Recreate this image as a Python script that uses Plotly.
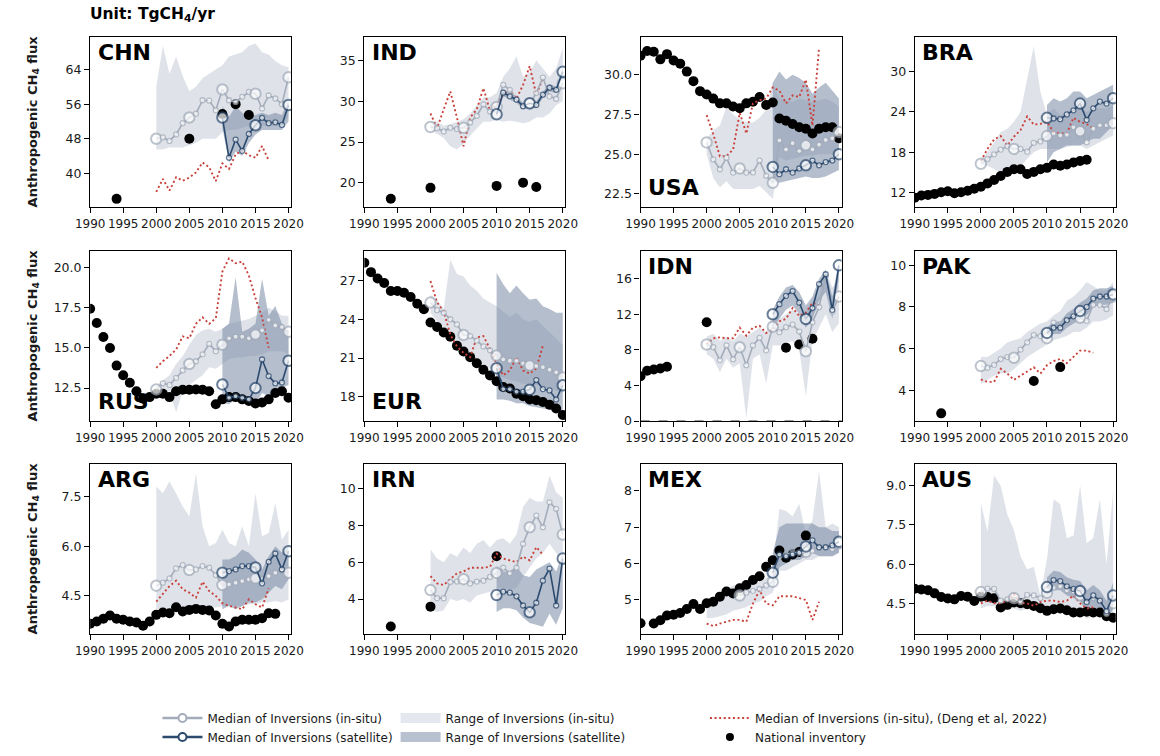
import plotly.graph_objects as go

# ---------------- DATA ----------------
YRS_ALL = list(range(1990, 2021))
YRS_INSITU = list(range(2000, 2021))
YRS_SAT = list(range(2010, 2021))
YRS_DENG = list(range(2000, 2018))
X_TICKS = [1990, 1995, 2000, 2005, 2010, 2015, 2020]

# CHN
chn_inv_x = [1994, 2005, 2010, 2012, 2014]
chn_inv = [34.1, 48.0, 53.7, 56.0, 53.5]
chn_insitu = [48.0, 48.3, 47.5, 49.0, 51.6, 52.9, 53.8, 56.9, 56.8, 54.6, 59.4, 56.9, 56.5, 57.7, 58.8, 58.4, 55.0, 58.0, 57.3, 56.0, 62.2]
chn_insitu_lo = [45.5, 45.5, 46.0, 46.0, 46.0, 46.5, 47.0, 48.0, 48.0, 48.0, 49.5, 50.0, 50.0, 50.5, 51.0, 51.5, 51.0, 51.0, 51.0, 51.0, 53.0]
chn_insitu_hi = [60.0, 69.5, 63.0, 67.0, 62.5, 59.0, 60.0, 62.0, 63.0, 64.0, 65.0, 67.0, 67.5, 68.0, 69.5, 70.0, 68.0, 67.5, 66.0, 65.0, 64.5]
chn_sat = [52.9, 43.6, 47.8, 45.2, 49.1, 51.1, 52.8, 51.6, 51.8, 51.2, 55.8]
chn_sat_lo = [50.5, 42.5, 45.0, 44.0, 47.0, 49.0, 50.0, 50.0, 50.0, 50.0, 52.0]
chn_sat_hi = [55.5, 53.0, 55.5, 54.0, 53.0, 53.5, 54.0, 53.5, 54.0, 53.5, 57.0]
chn_deng = [35.7, 38.7, 36.0, 39.1, 38.3, 39.0, 40.2, 42.5, 41.4, 38.2, 42.3, 41.0, 44.4, 45.2, 44.2, 43.6, 46.3, 43.0]

# IND
ind_inv_x = [1994, 2000, 2010, 2014, 2016]
ind_inv = [18.06, 19.4, 19.64, 20.04, 19.5]
ind_insitu = [26.85, 26.7, 26.3, 26.75, 26.6, 26.75, 27.4, 28.2, 29.6, 28.75, 29.3, 32.0, 31.4, 30.2, 29.4, 29.7, 31.0, 32.9, 30.6, 30.3, 32.2]
ind_insitu_lo = [26.5, 26.0, 25.5, 24.5, 24.1, 24.8, 25.8, 26.7, 27.5, 27.5, 27.7, 27.5, 27.6, 27.5, 27.3, 27.5, 28.0, 28.0, 28.5, 29.5, 30.0]
ind_insitu_hi = [27.5, 27.5, 27.0, 27.2, 27.5, 27.8, 28.5, 29.5, 30.5, 30.5, 31.0, 33.0, 34.0, 35.5, 33.0, 33.5, 35.0, 34.0, 33.0, 34.0, 36.5]
ind_sat = [28.4, 31.05, 30.6, 30.2, 29.4, 29.75, 29.55, 30.8, 31.65, 31.4, 33.6]
ind_sat_lo = [28.0, 30.6, 30.2, 29.8, 29.0, 29.3, 29.1, 30.4, 31.2, 31.0, 33.1]
ind_sat_hi = [28.8, 31.5, 31.0, 30.6, 29.8, 30.2, 30.0, 31.2, 32.1, 31.8, 34.1]
ind_deng = [28.5, 26.7, 29.0, 31.2, 28.0, 24.5, 28.0, 29.0, 31.6, 28.8, 29.5, 30.8, 31.4, 30.3, 32.0, 34.3, 30.8, 32.8]

# USA
usa_inv = [31.2, 31.5, 31.45, 30.97, 31.3, 30.9, 30.7, 30.2, 29.6, 28.97, 28.76, 28.5, 28.2, 28.2, 28.0, 27.9, 28.2, 28.3, 28.6, 28.1, 28.25, 27.25, 27.1, 26.9, 26.7, 26.6, 26.3, 26.6, 26.7, 26.7, 26.0]
usa_insitu = [25.74, 24.67, 24.05, 24.77, 23.84, 24.1, 23.84, 23.85, 24.6, 23.64, 23.2, 25.87, 25.3, 25.7, 25.2, 25.56, 25.3, 25.6, 25.9, 26.0, 26.4]
usa_insitu_lo = [25.0, 23.5, 22.9, 23.3, 22.8, 22.8, 22.8, 22.8, 23.0, 22.6, 22.2, 24.8, 24.6, 24.7, 24.8, 24.9, 24.9, 25.0, 25.0, 25.0, 25.0]
usa_insitu_hi = [26.0, 26.5, 26.8, 28.0, 27.5, 27.2, 27.0, 27.0, 27.3, 27.8, 29.5, 28.5, 28.4, 28.3, 28.5, 28.4, 28.3, 28.4, 28.5, 28.3, 28.0]
usa_sat = [24.2, 23.74, 24.05, 23.84, 24.1, 24.3, 24.6, 24.3, 24.5, 24.6, 25.0]
usa_sat_lo = [23.3, 23.2, 23.3, 23.4, 23.5, 23.6, 23.5, 23.5, 23.6, 23.8, 24.0]
usa_sat_hi = [29.5, 30.2, 29.7, 30.0, 29.8, 29.5, 28.8, 29.2, 29.5, 29.0, 28.5]
usa_deng = [27.46, 26.26, 24.87, 24.87, 25.3, 27.6, 26.3, 28.2, 28.4, 28.5, 29.2, 29.0, 28.2, 28.7, 28.6, 29.7, 26.8, 31.7]

# BRA
bra_inv_x = list(range(1990, 2017))
bra_inv = [11.27, 11.6, 11.7, 11.85, 12.1, 12.25, 11.95, 12.1, 12.3, 12.6, 12.9, 13.4, 13.9, 14.5, 15.1, 15.5, 15.5, 14.8, 15.1, 15.5, 15.7, 16.2, 16.0, 16.2, 16.5, 16.7, 16.9]
bra_insitu = [16.3, 17.0, 17.7, 18.4, 18.9, 18.5, 18.5, 18.1, 19.4, 19.6, 20.4, 20.8, 20.5, 20.6, 21.7, 21.1, 19.5, 21.5, 22.0, 22.0, 22.3]
bra_insitu_lo = [16.0, 16.0, 15.5, 15.0, 15.0, 16.0, 16.0, 17.0, 18.0, 18.5, 18.5, 18.5, 18.5, 18.8, 19.0, 19.0, 18.5, 19.0, 19.5, 20.0, 20.5]
bra_insitu_hi = [17.0, 18.0, 19.5, 21.0, 21.5, 22.5, 24.0, 29.0, 33.7, 27.0, 23.5, 24.5, 23.5, 24.0, 24.5, 24.5, 24.0, 24.5, 24.5, 24.5, 25.0]
bra_sat = [23.1, 23.0, 22.9, 23.6, 24.2, 25.2, 22.8, 24.5, 25.5, 25.2, 26.0]
bra_sat_lo = [16.5, 18.0, 18.5, 19.0, 19.0, 19.0, 19.5, 20.0, 20.0, 21.0, 22.0]
bra_sat_hi = [25.0, 26.0, 25.5, 26.0, 27.0, 27.0, 26.0, 26.5, 27.0, 27.5, 28.0]
bra_deng = [16.7, 18.5, 19.9, 20.4, 19.0, 20.3, 21.3, 23.3, 22.1, 22.2, 22.5, 21.0, 20.8, 20.8, 23.1, 22.5, 22.2, 21.5]

# RUS
rus_inv = [17.44, 16.55, 15.68, 15.0, 13.9, 13.3, 12.83, 12.3, 11.84, 11.94, 12.15, 12.15, 11.94, 12.3, 12.4, 12.4, 12.42, 12.4, 12.3, 11.5, 11.8, 11.94, 11.94, 11.8, 11.7, 11.55, 11.6, 11.8, 12.2, 12.3, 11.9]
rus_insitu = [12.42, 12.8, 12.7, 13.14, 13.6, 14.0, 14.17, 14.6, 15.25, 14.8, 15.2, 15.6, 15.7, 15.7, 15.6, 15.83, 16.1, 16.75, 16.4, 16.3, 16.0]
rus_insitu_lo = [12.2, 12.3, 12.3, 11.0, 12.3, 12.7, 13.0, 13.3, 13.8, 13.7, 14.0, 14.3, 14.4, 14.4, 14.5, 14.5, 14.6, 14.8, 14.8, 14.8, 14.6]
rus_insitu_hi = [12.6, 13.0, 13.3, 14.0, 14.5, 15.2, 15.8, 16.1, 16.2, 16.0, 16.2, 16.5, 16.6, 16.7, 16.8, 17.0, 17.2, 17.5, 17.3, 17.0, 17.0]
rus_sat = [12.73, 11.9, 12.0, 11.9, 11.8, 12.5, 14.28, 13.25, 12.8, 12.85, 14.2]
rus_sat_lo = [11.6, 11.5, 11.8, 11.8, 11.8, 11.5, 12.2, 12.0, 12.2, 12.5, 12.7]
rus_sat_hi = [16.2, 16.5, 19.4, 16.0, 16.2, 16.5, 19.3, 17.0, 17.6, 16.5, 16.0]
rus_deng = [13.76, 14.17, 14.5, 14.9, 15.72, 15.6, 16.5, 16.9, 16.5, 16.85, 19.75, 20.57, 20.27, 20.37, 19.5, 18.1, 16.9, 15.0]

# EUR
eur_inv = [28.36, 27.64, 27.15, 26.8, 26.18, 26.18, 26.05, 25.72, 25.2, 24.77, 23.75, 23.4, 22.98, 22.65, 21.96, 21.5, 21.07, 20.6, 20.1, 19.66, 19.2, 18.76, 18.64, 18.25, 18.05, 17.8, 17.74, 17.6, 17.4, 17.1, 16.6]
eur_insitu = [25.29, 24.7, 24.5, 24.0, 23.6, 22.78, 22.7, 22.35, 21.9, 21.6, 21.2, 20.9, 20.8, 20.8, 20.6, 20.43, 20.4, 20.3, 20.1, 19.9, 19.5]
eur_insitu_lo = [24.5, 23.8, 23.2, 22.5, 22.0, 21.5, 21.0, 20.8, 20.5, 20.2, 19.6, 19.5, 19.3, 19.2, 19.0, 19.0, 18.9, 18.8, 18.6, 18.5, 18.3]
eur_insitu_hi = [25.9, 25.5, 24.8, 28.6, 27.5, 27.3, 26.6, 26.2, 25.6, 25.3, 25.0, 24.6, 24.2, 24.5, 24.0, 23.8, 24.0, 23.5, 23.0, 22.5, 22.0]
eur_sat = [20.22, 18.6, 18.6, 18.4, 18.4, 18.56, 19.3, 18.6, 18.5, 17.8, 18.9]
eur_sat_lo = [17.8, 17.8, 17.7, 17.5, 17.5, 17.3, 17.2, 17.1, 17.0, 16.9, 16.8]
eur_sat_hi = [27.6, 26.7, 26.0, 26.6, 26.0, 25.5, 25.6, 25.0, 24.8, 24.5, 24.5]
eur_deng = [26.95, 25.3, 24.6, 22.8, 21.9, 21.4, 21.07, 22.6, 22.7, 21.7, 20.55, 19.66, 20.04, 21.07, 20.04, 19.8, 20.2, 21.96]

# IDN
idn_inv_x = [1990, 1991, 1992, 1993, 1994, 2000, 2012, 2014, 2016]
idn_inv = [5.05, 5.65, 5.8, 5.9, 6.1, 11.1, 8.25, 8.6, 9.25]
idn_insitu = [8.6, 8.3, 6.85, 8.5, 6.95, 8.3, 6.28, 8.5, 9.35, 7.95, 10.6, 9.99, 10.55, 10.84, 10.06, 7.84, 11.1, 12.8, 16.3, 12.3, 14.0]
idn_insitu_lo = [7.5, 7.0, 5.5, 7.0, 6.0, 6.5, 0.3, 7.0, 7.5, 4.2, 8.5, 8.5, 8.8, 9.0, 8.0, 2.75, 9.0, 10.5, 12.0, 10.0, 11.0]
idn_insitu_hi = [9.5, 9.8, 9.0, 9.5, 9.0, 9.8, 9.5, 10.0, 10.5, 10.0, 12.0, 11.5, 12.0, 12.5, 12.0, 12.0, 13.5, 14.0, 17.0, 15.0, 16.0]
idn_sat = [12.0, 13.14, 14.07, 14.6, 13.3, 11.47, 12.7, 15.4, 16.5, 12.5, 17.5]
idn_sat_lo = [10.5, 11.5, 12.5, 13.0, 12.0, 10.5, 11.5, 13.5, 14.5, 11.5, 16.0]
idn_sat_hi = [12.5, 14.0, 15.0, 15.3, 14.5, 13.0, 14.0, 16.0, 17.0, 14.0, 18.0]
idn_deng = [8.6, 9.3, 9.4, 9.3, 9.3, 10.5, 9.6, 10.5, 10.7, 9.9, 10.3, 11.2, 11.5, 12.7, 11.8, 12.2, 13.3, 13.0]

# PAK
pak_inv_x = [1994, 2008, 2012]
pak_inv = [2.89, 4.44, 5.11]
pak_insitu = [5.16, 5.08, 5.22, 5.5, 5.59, 5.56, 5.95, 6.3, 6.65, 6.6, 6.5, 7.25, 7.0, 7.3, 7.6, 7.48, 7.33, 8.1, 8.1, 7.9, 8.5]
pak_insitu_lo = [4.3, 4.5, 4.7, 4.8, 4.8, 5.0, 5.3, 5.6, 5.8, 6.0, 6.2, 6.4, 6.5, 6.6, 6.8, 6.8, 7.0, 7.3, 7.3, 7.4, 7.6]
pak_insitu_hi = [5.6, 5.6, 5.8, 6.0, 6.3, 6.4, 6.5, 6.8, 7.0, 7.2, 7.3, 7.6, 7.8, 8.3, 8.5, 8.8, 9.2, 9.0, 8.8, 8.8, 9.2]
pak_sat = [6.75, 7.0, 7.0, 7.37, 7.55, 7.8, 8.0, 8.4, 8.5, 8.5, 8.6]
pak_sat_lo = [6.5, 6.7, 6.7, 7.0, 7.2, 7.4, 7.6, 8.0, 8.1, 8.1, 8.2]
pak_sat_hi = [7.0, 7.3, 7.3, 7.7, 7.9, 8.2, 8.4, 8.8, 8.9, 8.9, 9.0]
pak_deng = [4.52, 4.4, 4.4, 5.03, 4.8, 4.5, 4.7, 4.9, 5.1, 4.8, 5.2, 5.4, 5.5, 5.3, 5.6, 5.9, 5.9, 5.8]

# ARG
arg_inv_x = list(range(1990, 2019))
arg_inv = [3.66, 3.73, 3.81, 3.91, 3.81, 3.78, 3.73, 3.7, 3.6, 3.73, 3.93, 4.0, 3.98, 4.16, 4.03, 4.08, 4.11, 4.08, 4.06, 3.91, 3.66, 3.58, 3.73, 3.78, 3.78, 3.78, 3.83, 3.98, 3.96]
arg_insitu = [4.81, 4.9, 5.03, 5.33, 5.43, 5.28, 5.3, 5.4, 5.35, 5.13, 4.83, 4.85, 4.9, 4.95, 5.0, 5.03, 5.0, 5.1, 5.2, 5.3, 5.2]
arg_insitu_lo = [4.1, 4.1, 4.1, 4.1, 4.1, 4.15, 4.1, 4.1, 4.15, 4.15, 4.2, 4.2, 4.2, 4.2, 4.25, 4.25, 4.3, 4.3, 4.35, 4.3, 4.4]
arg_insitu_hi = [7.8, 7.6, 7.95, 7.6, 7.2, 6.9, 8.2, 6.6, 6.0, 6.1, 6.5, 6.1, 6.0, 6.6, 6.0, 7.6, 6.3, 6.4, 7.3, 6.2, 6.5]
arg_sat = [5.2, 5.25, 5.3, 5.4, 5.4, 5.36, 4.88, 5.53, 5.78, 5.3, 5.85]
arg_sat_lo = [4.1, 4.2, 4.1, 4.2, 4.3, 4.3, 4.4, 4.6, 4.8, 4.7, 5.0]
arg_sat_hi = [5.6, 5.6, 5.7, 5.9, 5.8, 5.6, 5.3, 5.7, 6.0, 5.8, 6.0]
arg_deng = [4.33, 4.55, 4.8, 4.96, 4.7, 4.6, 4.45, 4.93, 4.65, 4.5, 4.28, 4.2, 4.15, 4.1, 4.4, 4.25, 4.15, 4.73]

# IRN
irn_inv_x = [1994, 2000, 2010]
irn_inv = [2.51, 3.59, 6.32]
irn_insitu = [4.49, 4.05, 4.05, 4.93, 4.95, 5.08, 4.85, 4.95, 5.0, 5.2, 5.42, 5.7, 5.4, 5.7, 7.0, 7.9, 8.53, 7.9, 9.25, 8.9, 7.5]
irn_insitu_lo = [3.5, 3.3, 3.4, 4.0, 3.9, 4.0, 3.8, 4.2, 4.3, 4.4, 4.6, 4.6, 4.5, 4.6, 5.2, 5.7, 6.2, 6.5, 7.0, 6.5, 6.0]
irn_insitu_hi = [6.7, 6.2, 6.0, 6.5, 6.3, 6.8, 6.5, 7.0, 7.2, 6.8, 7.2, 7.3, 7.0, 7.5, 9.0, 9.5, 9.3, 9.3, 10.7, 9.8, 9.5]
irn_sat = [4.22, 4.4, 4.35, 4.15, 3.65, 3.28, 3.8, 5.0, 5.65, 3.65, 6.2]
irn_sat_lo = [3.3, 3.5, 3.5, 3.4, 3.0, 2.7, 2.6, 2.5, 3.2, 2.6, 3.5]
irn_sat_hi = [5.8, 5.5, 5.5, 5.8, 5.3, 5.2, 5.6, 5.8, 6.0, 5.5, 6.5]
irn_deng = [5.24, 4.85, 4.76, 5.1, 5.4, 5.5, 5.7, 5.7, 5.7, 5.75, 6.46, 6.2, 6.1, 6.0, 6.3, 6.1, 6.82, 6.4]

# MEX
mex_inv_x = [1990] + list(range(1992, 2016))
mex_inv = [4.36, 4.35, 4.44, 4.57, 4.59, 4.64, 4.75, 4.89, 4.75, 4.91, 4.95, 5.09, 5.23, 5.18, 5.32, 5.41, 5.55, 5.65, 5.91, 6.09, 6.36, 6.16, 6.25, 6.32, 6.77]
mex_insitu_x = list(range(2005, 2021))
mex_insitu = [5.12, 5.2, 5.25, 5.3, 5.4, 5.5, 6.2, 6.25, 6.3, 6.3, 6.32, 6.35, 6.45, 6.45, 6.4, 6.55]
mex_insitu_lo = [4.5, 4.5, 4.55, 4.6, 4.7, 4.75, 4.8, 4.9, 4.95, 5.1, 5.2, 5.8, 5.8, 5.9, 6.0, 6.1, 6.1, 6.2, 6.2, 6.2, 6.3]
mex_insitu_hi = [5.0, 5.1, 5.2, 5.3, 5.4, 5.45, 5.5, 5.45, 5.5, 5.6, 5.9, 7.5, 7.45, 7.3, 7.65, 6.8, 7.2, 8.55, 7.0, 7.1, 7.0]
mex_sat = [5.75, 6.25, 6.2, 6.25, 6.3, 6.47, 6.64, 6.45, 6.45, 6.5, 6.6]
mex_sat_lo = [5.3, 5.9, 6.0, 6.1, 6.1, 6.2, 6.3, 6.2, 6.2, 6.2, 6.3]
mex_sat_hi = [6.3, 7.0, 7.1, 7.1, 7.1, 7.1, 7.1, 7.0, 7.0, 6.9, 6.9]
mex_deng = [4.35, 4.28, 4.35, 4.4, 4.45, 4.45, 4.4, 4.9, 5.27, 4.9, 4.85, 5.1, 5.1, 5.1, 5.05, 5.0, 4.45, 4.95]

# AUS
aus_inv = [5.06, 5.03, 5.0, 4.88, 4.74, 4.68, 4.65, 4.78, 4.75, 4.59, 4.75, 4.74, 4.69, 4.34, 4.44, 4.53, 4.5, 4.46, 4.4, 4.31, 4.21, 4.27, 4.3, 4.23, 4.15, 4.15, 4.18, 4.15, 4.15, 4.0, 3.95]
aus_insitu = [4.93, 5.06, 5.05, 4.6, 4.65, 4.7, 4.55, 4.82, 4.8, 4.7, 4.9, 5.1, 5.15, 5.0, 4.95, 4.8, 4.5, 4.7, 4.6, 4.1, 4.5]
aus_insitu_lo = [4.3, 4.4, 4.4, 4.2, 4.3, 4.3, 4.2, 4.3, 4.3, 4.3, 4.3, 4.4, 4.4, 4.3, 4.3, 4.2, 3.9, 4.0, 4.0, 3.8, 3.9]
aus_insitu_hi = [8.35, 7.25, 9.4, 9.0, 7.9, 7.3, 6.3, 5.8, 5.9, 4.8, 6.2, 8.49, 8.3, 7.0, 7.1, 9.02, 6.8, 7.0, 8.5, 6.0, 8.8]
aus_sat = [5.12, 5.39, 5.35, 5.15, 5.05, 4.97, 4.55, 4.8, 4.6, 4.2, 4.8]
aus_sat_lo = [4.75, 5.0, 5.0, 4.8, 4.7, 4.6, 4.1, 4.4, 4.2, 3.8, 4.3]
aus_sat_hi = [5.5, 5.75, 5.7, 5.5, 5.4, 5.35, 5.0, 5.2, 5.0, 4.6, 5.3]
aus_deng = [4.5, 4.6, 4.5, 4.5, 4.6, 4.85, 4.5, 4.5, 4.4, 4.55, 4.6, 4.6, 4.55, 4.6, 4.8, 4.5, 4.3, 4.35]

# ---------------- PANEL CONFIG ----------------
panels = [
    dict(name="CHN", inv_x=chn_inv_x, inv=chn_inv, ins_x=YRS_INSITU, ins=chn_insitu, ins_lo=chn_insitu_lo, ins_hi=chn_insitu_hi,
         sat=chn_sat, sat_lo=chn_sat_lo, sat_hi=chn_sat_hi, deng=chn_deng, yr=[32.2, 71.6], yt=[40, 48, 56, 64], fmt="d", lab="top"),
    dict(name="IND", inv_x=ind_inv_x, inv=ind_inv, ins_x=YRS_INSITU, ins=ind_insitu, ins_lo=ind_insitu_lo, ins_hi=ind_insitu_hi,
         sat=ind_sat, sat_lo=ind_sat_lo, sat_hi=ind_sat_hi, deng=ind_deng, yr=[17.05, 37.9], yt=[20, 25, 30, 35], fmt="d", lab="top"),
    dict(name="USA", inv_x=YRS_ALL, inv=usa_inv, ins_x=YRS_INSITU, ins=usa_insitu, ins_lo=usa_insitu_lo, ins_hi=usa_insitu_hi,
         sat=usa_sat, sat_lo=usa_sat_lo, sat_hi=usa_sat_hi, deng=usa_deng, yr=[21.67, 32.4], yt=[22.5, 25, 27.5, 30], fmt=".1f", lab="bottom"),
    dict(name="BRA", inv_x=bra_inv_x, inv=bra_inv, ins_x=YRS_INSITU, ins=bra_insitu, ins_lo=bra_insitu_lo, ins_hi=bra_insitu_hi,
         sat=bra_sat, sat_lo=bra_sat_lo, sat_hi=bra_sat_hi, deng=bra_deng, yr=[9.9, 35.1], yt=[12, 18, 24, 30], fmt="d", lab="top"),
    dict(name="RUS", inv_x=YRS_ALL, inv=rus_inv, ins_x=YRS_INSITU, ins=rus_insitu, ins_lo=rus_insitu_lo, ins_hi=rus_insitu_hi,
         sat=rus_sat, sat_lo=rus_sat_lo, sat_hi=rus_sat_hi, deng=rus_deng, yr=[10.45, 21.05], yt=[12.5, 15, 17.5, 20], fmt=".1f", lab="bottom"),
    dict(name="EUR", inv_x=YRS_ALL, inv=eur_inv, ins_x=YRS_INSITU, ins=eur_insitu, ins_lo=eur_insitu_lo, ins_hi=eur_insitu_hi,
         sat=eur_sat, sat_lo=eur_sat_lo, sat_hi=eur_sat_hi, deng=eur_deng, yr=[16.13, 29.3], yt=[18, 21, 24, 27], fmt="d", lab="bottom"),
    dict(name="IDN", inv_x=idn_inv_x, inv=idn_inv, ins_x=YRS_INSITU, ins=idn_insitu, ins_lo=idn_insitu_lo, ins_hi=idn_insitu_hi,
         sat=idn_sat, sat_lo=idn_sat_lo, sat_hi=idn_sat_hi, deng=idn_deng, yr=[0, 19.15], yt=[0, 4, 8, 12, 16], fmt="d", lab="top", zero=True),
    dict(name="PAK", inv_x=pak_inv_x, inv=pak_inv, ins_x=YRS_INSITU, ins=pak_insitu, ins_lo=pak_insitu_lo, ins_hi=pak_insitu_hi,
         sat=pak_sat, sat_lo=pak_sat_lo, sat_hi=pak_sat_hi, deng=pak_deng, yr=[2.52, 10.7], yt=[4, 6, 8, 10], fmt="d", lab="top"),
    dict(name="ARG", inv_x=arg_inv_x, inv=arg_inv, ins_x=YRS_INSITU, ins=arg_insitu, ins_lo=arg_insitu_lo, ins_hi=arg_insitu_hi,
         sat=arg_sat, sat_lo=arg_sat_lo, sat_hi=arg_sat_hi, deng=arg_deng, yr=[3.35, 8.49], yt=[4.5, 6.0, 7.5], fmt=".1f", lab="top"),
    dict(name="IRN", inv_x=irn_inv_x, inv=irn_inv, ins_x=YRS_INSITU, ins=irn_insitu, ins_lo=irn_insitu_lo, ins_hi=irn_insitu_hi,
         sat=irn_sat, sat_lo=irn_sat_lo, sat_hi=irn_sat_hi, deng=irn_deng, yr=[2.1, 11.35], yt=[4, 6, 8, 10], fmt="d", lab="top"),
    dict(name="MEX", inv_x=mex_inv_x, inv=mex_inv, ins_x=mex_insitu_x, ins=mex_insitu, ins_lo=mex_insitu_lo, ins_hi=mex_insitu_hi,
         sat=mex_sat, sat_lo=mex_sat_lo, sat_hi=mex_sat_hi, deng=mex_deng, yr=[4.06, 8.75], yt=[5, 6, 7, 8], fmt="d", lab="top"),
    dict(name="AUS", inv_x=YRS_ALL, inv=aus_inv, ins_x=YRS_INSITU, ins=aus_insitu, ins_lo=aus_insitu_lo, ins_hi=aus_insitu_hi,
         sat=aus_sat, sat_lo=aus_sat_lo, sat_hi=aus_sat_hi, deng=aus_deng, yr=[3.32, 9.85], yt=[4.5, 6.0, 7.5, 9.0], fmt=".1f", lab="top"),
]

# ---------------- STYLE ----------------
W, H = 1160, 756
COL_LEFT = [77, 358, 641, 922]
AX_W = 206
ROW_TOP = [37, 253, 468]
AX_H = 172
X_RANGE = [1990, 2020.4]

C_INSITU = "#a3acba"
C_SAT = "#2c4a6e"
F_INSITU = "rgba(200,206,217,0.58)"
F_SAT = "rgba(118,136,164,0.55)"
C_DENG = "#c8413a"
C_INV = "#000000"
FONT = "DejaVu Sans"
TXT = "#1a1a1a"
DOT = "2px,2.6px"

fig = go.Figure()
layout = dict(width=W, height=H, margin=dict(l=0, r=0, t=0, b=0),
              paper_bgcolor="white", plot_bgcolor="white",
              font=dict(family=FONT, color=TXT, size=12))
annotations = []
shapes = []


def msizes(xs, big, small):
    return [big if x % 5 == 0 else small for x in xs]


for i, p in enumerate(panels):
    k = i + 1
    sfx = "" if k == 1 else str(k)
    xa, ya = f"x{sfx}", f"y{sfx}"
    r, c = divmod(i, 4)
    L = COL_LEFT[c]
    T = ROW_TOP[r]
    layout[f"xaxis{sfx}"] = dict(
        domain=[L / W, (L + AX_W) / W], range=X_RANGE, anchor=ya,
        tickvals=X_TICKS, tickangle=0, ticks="outside", ticklen=5, tickwidth=1.2, tickcolor="black",
        showline=True, linecolor="black", linewidth=1.3, mirror=True,
        showgrid=False, zeroline=False, tickfont=dict(size=12, family=FONT, color=TXT))
    ydict = dict(
        domain=[1 - (T + AX_H) / H, 1 - T / H], range=p["yr"], anchor=xa,
        tickvals=p["yt"], ticks="outside", ticklen=5, tickwidth=1.2, tickcolor="black",
        showline=True, linecolor="black", linewidth=1.3, mirror=True,
        showgrid=False, zeroline=False, tickfont=dict(size=12.5, family=FONT, color=TXT))
    if p["fmt"] != "d":
        ydict["tickformat"] = p["fmt"]
    layout[f"yaxis{sfx}"] = ydict

    fig.add_trace(go.Scatter(x=YRS_INSITU + YRS_INSITU[::-1], y=p["ins_hi"] + p["ins_lo"][::-1], fill="toself",
                             fillcolor=F_INSITU, line=dict(width=0), mode="lines", hoverinfo="skip",
                             showlegend=False, xaxis=xa, yaxis=ya))
    fig.add_trace(go.Scatter(x=YRS_SAT + YRS_SAT[::-1], y=p["sat_hi"] + p["sat_lo"][::-1], fill="toself",
                             fillcolor=F_SAT, line=dict(width=0), mode="lines", hoverinfo="skip",
                             showlegend=False, xaxis=xa, yaxis=ya))
    fig.add_trace(go.Scatter(x=p["inv_x"], y=p["inv"], mode="markers",
                             marker=dict(size=10, color=C_INV), showlegend=False, xaxis=xa, yaxis=ya))
    fig.add_trace(go.Scatter(x=YRS_DENG, y=p["deng"], mode="lines",
                             line=dict(color=C_DENG, width=1.9, dash=DOT), showlegend=False, xaxis=xa, yaxis=ya))
    fig.add_trace(go.Scatter(x=p["ins_x"], y=p["ins"], mode="lines+markers",
                             line=dict(color=C_INSITU, width=1.6),
                             marker=dict(size=msizes(p["ins_x"], 10.5, 5), color="white",
                                         line=dict(color=C_INSITU, width=msizes(p["ins_x"], 2, 1.3))),
                             showlegend=False, xaxis=xa, yaxis=ya))
    fig.add_trace(go.Scatter(x=YRS_SAT, y=p["sat"], mode="lines+markers",
                             line=dict(color=C_SAT, width=1.6),
                             marker=dict(size=msizes(YRS_SAT, 10.5, 5), color="white",
                                         line=dict(color=C_SAT, width=msizes(YRS_SAT, 2, 1.3))),
                             showlegend=False, xaxis=xa, yaxis=ya))

    if p.get("zero"):
        shapes.append(dict(type="line", xref=f"{xa} domain", yref=ya, x0=0, x1=1, y0=0, y1=0,
                           line=dict(color="#333", width=1.2, dash="dash")))

    if p["lab"] == "top":
        annotations.append(dict(text=f"<b>{p['name']}</b>", xref=f"{xa} domain", yref=f"{ya} domain",
                                x=0.028, y=0.995, xanchor="left", yanchor="top", showarrow=False,
                                font=dict(size=22, family=FONT, color="black")))
    else:
        annotations.append(dict(text=f"<b>{p['name']}</b>", xref=f"{xa} domain", yref=f"{ya} domain",
                                x=0.028, y=0.03, xanchor="left", yanchor="bottom", showarrow=False,
                                font=dict(size=22, family=FONT, color="black")))

# legend entries (legend-only traces)
leg_font = dict(size=12, family=FONT, color=TXT)
fig.add_trace(go.Scatter(x=[None], y=[None], mode="lines+markers", name="Median of Inversions (in-situ)",
                         line=dict(color=C_INSITU, width=2.5),
                         marker=dict(size=8, color="white", line=dict(color=C_INSITU, width=2)),
                         legend="legend", xaxis="x", yaxis="y"))
fig.add_trace(go.Scatter(x=[None], y=[None], mode="lines+markers", name="Median of Inversions (satellite)",
                         line=dict(color=C_SAT, width=2.5),
                         marker=dict(size=8, color="white", line=dict(color=C_SAT, width=2)),
                         legend="legend", xaxis="x", yaxis="y"))
fig.add_trace(go.Scatter(x=[None], y=[None], mode="lines", name="Range of Inversions (in-situ)",
                         line=dict(color="#e4e7ed", width=12), legend="legend2", xaxis="x", yaxis="y"))
fig.add_trace(go.Scatter(x=[None], y=[None], mode="lines", name="Range of Inversions (satellite)",
                         line=dict(color="#b8c1cf", width=12), legend="legend2", xaxis="x", yaxis="y"))
fig.add_trace(go.Scatter(x=[None], y=[None], mode="lines", name="Median of Inversions (in-situ), (Deng et al, 2022)",
                         line=dict(color=C_DENG, width=1.9, dash=DOT), legend="legend3", xaxis="x", yaxis="y"))
fig.add_trace(go.Scatter(x=[None], y=[None], mode="markers", name="National inventory",
                         marker=dict(size=8, color=C_INV), legend="legend3", xaxis="x", yaxis="y"))

leg_common = dict(orientation="v", yanchor="top", xanchor="left", bgcolor="rgba(0,0,0,0)",
                  font=leg_font, tracegroupgap=0, itemwidth=40)
layout["legend"] = dict(x=146 / W, y=1 - 710 / H, **leg_common)
layout["legend2"] = dict(x=390 / W, y=1 - 710 / H, **leg_common)
layout["legend3"] = dict(x=707 / W, y=1 - 710 / H, **leg_common)

annotations.append(dict(text="<b>Unit: TgCH<sub>4</sub>/yr</b>", xref="paper", yref="paper",
                        x=75 / W, y=1 - 15 / H, xanchor="left", yanchor="middle", showarrow=False,
                        font=dict(size=15.5, family=FONT, color="black")))
for r in range(3):
    cy = ROW_TOP[r] + AX_H / 2
    annotations.append(dict(text="<b>Anthropogenic CH<sub>4</sub> flux</b>", xref="paper", yref="paper",
                            x=19 / W, y=1 - cy / H, xanchor="center", yanchor="middle", textangle=-90,
                            showarrow=False, font=dict(size=13, family=FONT, color=TXT)))

layout["annotations"] = annotations
layout["shapes"] = shapes
fig.update_layout(**layout)
fig.write_html("out.html")
